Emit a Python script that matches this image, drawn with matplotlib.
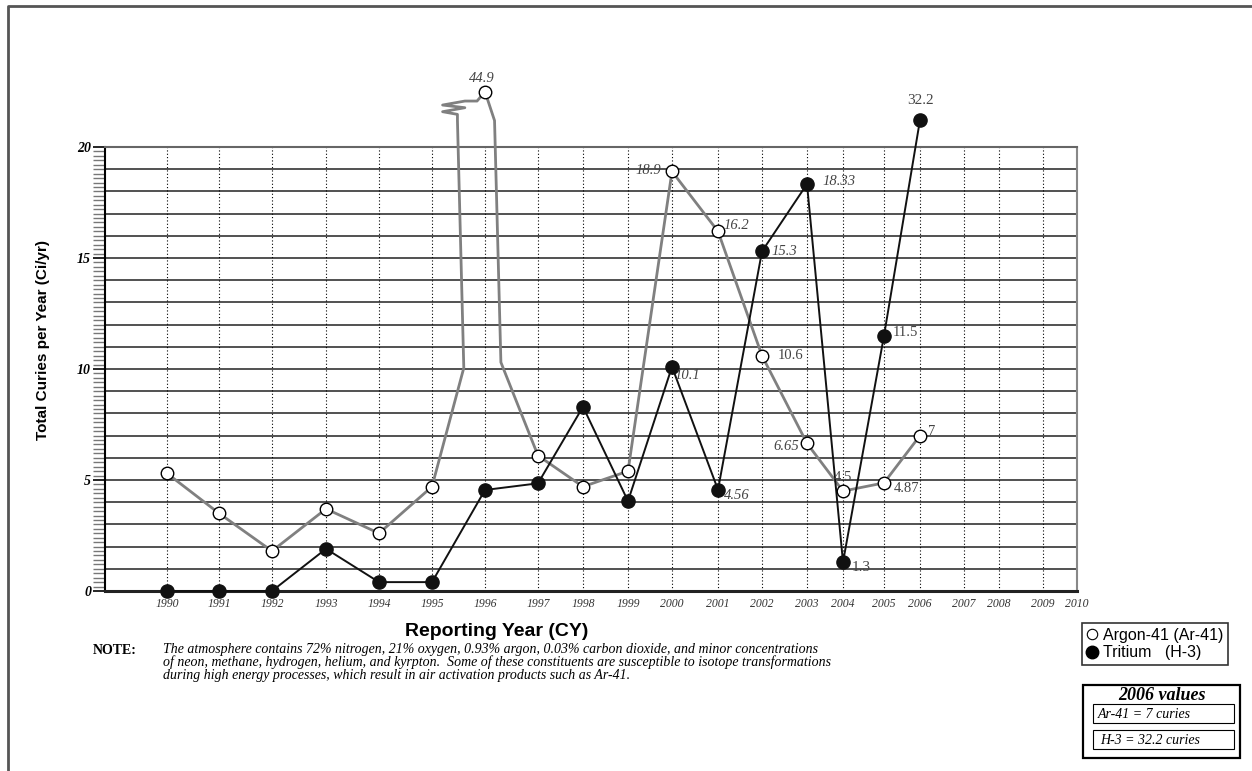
import numpy as np
import matplotlib
matplotlib.use('Agg')
import matplotlib.pyplot as plt
from matplotlib.lines import Line2D
from matplotlib.patches import Rectangle
from matplotlib.ticker import MultipleLocator

# values (curies per year)
years = list(range(1990, 2007))
argon = [5.3, 3.5, 1.8, 3.7, 2.6, 4.7, 44.9, 6.1, 4.7, 5.4, 18.9, 16.2, 10.6, 6.65, 4.5, 4.87, 7.0]
tritium = [0, 0, 0, 1.9, 0.4, 0.4, 4.55, 4.85, 8.3, 4.05, 10.1, 4.56, 15.3, 18.33, 1.3, 11.5, 32.2]
tick_years = list(range(1990, 2011))

# the year axis of the original is not evenly spaced: pixel position of each year line
grid_px = [167, 219, 272, 326, 379, 432, 485, 538, 583, 628, 672, 718, 762, 807,
           843, 884, 920, 964, 999, 1043, 1077]
yrs_ext = [1980] + tick_years + [2020]
px_ext = [167 - 10 * 52.4] + grid_px + [1077 + 10 * 34]


def fwd(x):
    return np.interp(x, yrs_ext, px_ext)


def inv(p):
    return np.interp(p, px_ext, yrs_ext)


def shown(v):
    # values above 20 go off the top of the scale, compressed
    v = np.asarray(v, dtype=float)
    return np.where(v <= 20, v, 20 + (v - 20) * 0.1)


SERIF = 'Liberation Serif'
SANS = 'Liberation Sans'
W, H = 1252, 771

fig = plt.figure(figsize=(W / 100, H / 100), dpi=100)
ax = fig.add_axes([105 / W, 1 - 591 / H, (1077 - 105) / W, (591 - 147) / H])
ax.set_xscale('function', functions=(fwd, inv))
ax.set_xlim(float(inv(105)), 2010)
ax.set_ylim(0, 20)

# grid
for v in range(1, 20):
    ax.axhline(v, color='#333333', lw=1.2, zorder=1)
for yr in tick_years[:-1]:
    ax.axvline(yr, color='black', lw=0.8, ls=(0, (1, 2)), zorder=1)

# argon line, with the broken-axis jog up to the 1996 value
ar_y = shown(argon)
i96 = years.index(1996)
py = float(ar_y[i96])
jog_x = [1995.6, 1995.48, 1995.48, 1995.2, 1995.62, 1995.2, 1995.62, 1995.85,
         1996.0, 1996.18, 1996.3]
jog_y = [10.05, py - 1.3, py - 1.02, py - 0.9, py - 0.72, py - 0.6, py - 0.42, py - 0.42,
         py, py - 1.3, 10.3]
line_x = years[:i96] + jog_x + years[i96 + 1:]
line_y = list(ar_y[:i96]) + jog_y + list(ar_y[i96 + 1:])
ax.plot(line_x, line_y, color='#808080', lw=2, zorder=3, clip_on=False)

h3_y = shown(tritium)
ax.plot(years, h3_y, color='#111111', lw=1.4, zorder=4, clip_on=False)

ax.plot(years, ar_y, ls='none', marker='o', ms=9, mfc='white', mec='black',
        mew=1, zorder=5, clip_on=False)
ax.plot(years, h3_y, ls='none', marker='o', ms=9.5, mfc='#111111', mec='#111111',
        zorder=6, clip_on=False)

# value labels: (series, year, dx, dy, ha, italic)
labels = [
    ('ar', 1996, -2, 9.5, 'center', True),
    ('ar', 2000, -8, 1, 'right', True),
    ('ar', 2001, 4, 4, 'left', True),
    ('ar', 2002, 11, 0, 'left', False),
    ('ar', 2003, -6, -2, 'right', True),
    ('ar', 2004, 0, 10, 'center', False),
    ('ar', 2005, 7, -4, 'left', False),
    ('ar', 2006, 6, 3, 'left', False),
    ('h3', 2000, 1.5, -6, 'left', True),
    ('h3', 2001, 4.5, -4, 'left', True),
    ('h3', 2002, 6.5, 0, 'left', True),
    ('h3', 2003, 11.5, 2, 'left', True),
    ('h3', 2004, 6.5, -4, 'left', False),
    ('h3', 2005, 6.5, 2, 'left', False),
    ('h3', 2006, 0, 14, 'center', False),
]
for series, yr, dx, dy, ha, it in labels:
    vals = argon if series == 'ar' else tritium
    i = years.index(yr)
    ax.annotate(f'{vals[i]:g}', (yr, float(shown(vals[i]))), xytext=(dx, dy),
                textcoords='offset points', ha=ha, va='center',
                fontsize=11 if yr in (2004, 2006) and series == 'h3' else 10.5,
                family=SERIF, style='italic' if it else 'normal',
                color='#444444', zorder=7, annotation_clip=False)

# axes styling
ax.set_xticks(tick_years)
ax.set_xticklabels([str(y) for y in tick_years], family=SERIF, style='italic',
                   fontsize=8.5, color='#333333')
ax.tick_params(axis='x', length=0, pad=5)
ax.set_yticks([0, 5, 10, 15, 20])
ax.set_yticklabels(['0', '5', '10', '15', '20'], family=SERIF, style='italic',
                   weight='bold', fontsize=10)
ax.yaxis.set_minor_locator(MultipleLocator(0.2))
ax.tick_params(axis='y', which='major', length=9, width=1.2, color='black', pad=1)
ax.tick_params(axis='y', which='minor', length=9, width=1.0, color='#777777')
for s, c, lw in [('left', 'black', 1.5), ('bottom', '#222222', 2.2), ('top', '#666666', 1.5)]:
    ax.spines[s].set_color(c)
    ax.spines[s].set_linewidth(lw)
ax.spines['right'].set_color('#888888')
ax.spines['right'].set_linestyle((0, (1, 1)))
ax.spines['right'].set_linewidth(1.5)

fig.text(43 / W, 1 - 340 / H, 'Total Curies per Year (Ci/yr)', rotation=90,
         ha='center', va='center', fontsize=11, weight='bold',
         family=['Liberation Sans Narrow', SANS])
fig.text(497 / W, 1 - 632 / H, 'Reporting Year (CY)', ha='center', va='center',
         fontsize=14, weight='bold', family=SANS)

# note
fig.text(93 / W, 1 - 650 / H, 'NOTE:', ha='left', va='center', fontsize=10,
         weight='bold', family=SERIF)
note = ['The atmosphere contains 72% nitrogen, 21% oxygen, 0.93% argon, 0.03% carbon dioxide, and minor concentrations',
        'of neon, methane, hydrogen, helium, and kyrpton.  Some of these constituents are susceptible to isotope transformations',
        'during high energy processes, which result in air activation products such as Ar-41.']
for k, line in enumerate(note):
    fig.text(163 / W, 1 - (650 + 12.5 * k) / H, line, ha='left', va='center',
             fontsize=10, style='italic', family=SERIF)

# legend
handles = [Line2D([], [], ls='none', marker='o', ms=7.5, mfc='white', mec='black', mew=0.8),
           Line2D([], [], ls='none', marker='o', ms=9, mfc='black', mec='black')]
leg = fig.legend(handles, ['Argon-41 (Ar-41)', 'Tritium   (H-3)'], loc='upper left',
                 bbox_to_anchor=(1082 / W, 1 - 623 / H), frameon=True, fancybox=False,
                 edgecolor='black', handlelength=0.7, handletextpad=0.3, borderpad=0.3,
                 labelspacing=0.15, prop={'family': SANS, 'size': 11.5}, borderaxespad=0)
leg.get_frame().set_linewidth(1.2)


# 2006 values box
def fig_rect(x0, y0, x1, y1, lw):
    fig.patches.append(Rectangle((x0 / W, 1 - y1 / H), (x1 - x0) / W, (y1 - y0) / H,
                                 transform=fig.transFigure, fill=False,
                                 edgecolor='black', lw=lw))


fig_rect(1083, 685, 1240, 758, 1.6)
fig_rect(1093, 704, 1234, 723, 0.8)
fig_rect(1093, 730, 1234, 749, 0.8)
fig.text(1162 / W, 1 - 695 / H, f'{years[-1]} values', ha='center', va='center',
         fontsize=13, weight='bold', style='italic', family=SERIF)
fig.text(1098 / W, 1 - 714 / H, f'Ar-41 = {argon[-1]:g} curies', ha='left', va='center',
         fontsize=10, style='italic', family=SERIF)
fig.text(1100 / W, 1 - 740 / H, f'H-3 = {tritium[-1]:g} curies', ha='left', va='center',
         fontsize=10, style='italic', family=SERIF)

# page border (left and top)
fig.add_artist(Line2D([8 / W, 8 / W, 1], [0, 1 - 6 / H, 1 - 6 / H],
                      transform=fig.transFigure, color='#555555', lw=2))

fig.savefig('out.png', dpi=100)
